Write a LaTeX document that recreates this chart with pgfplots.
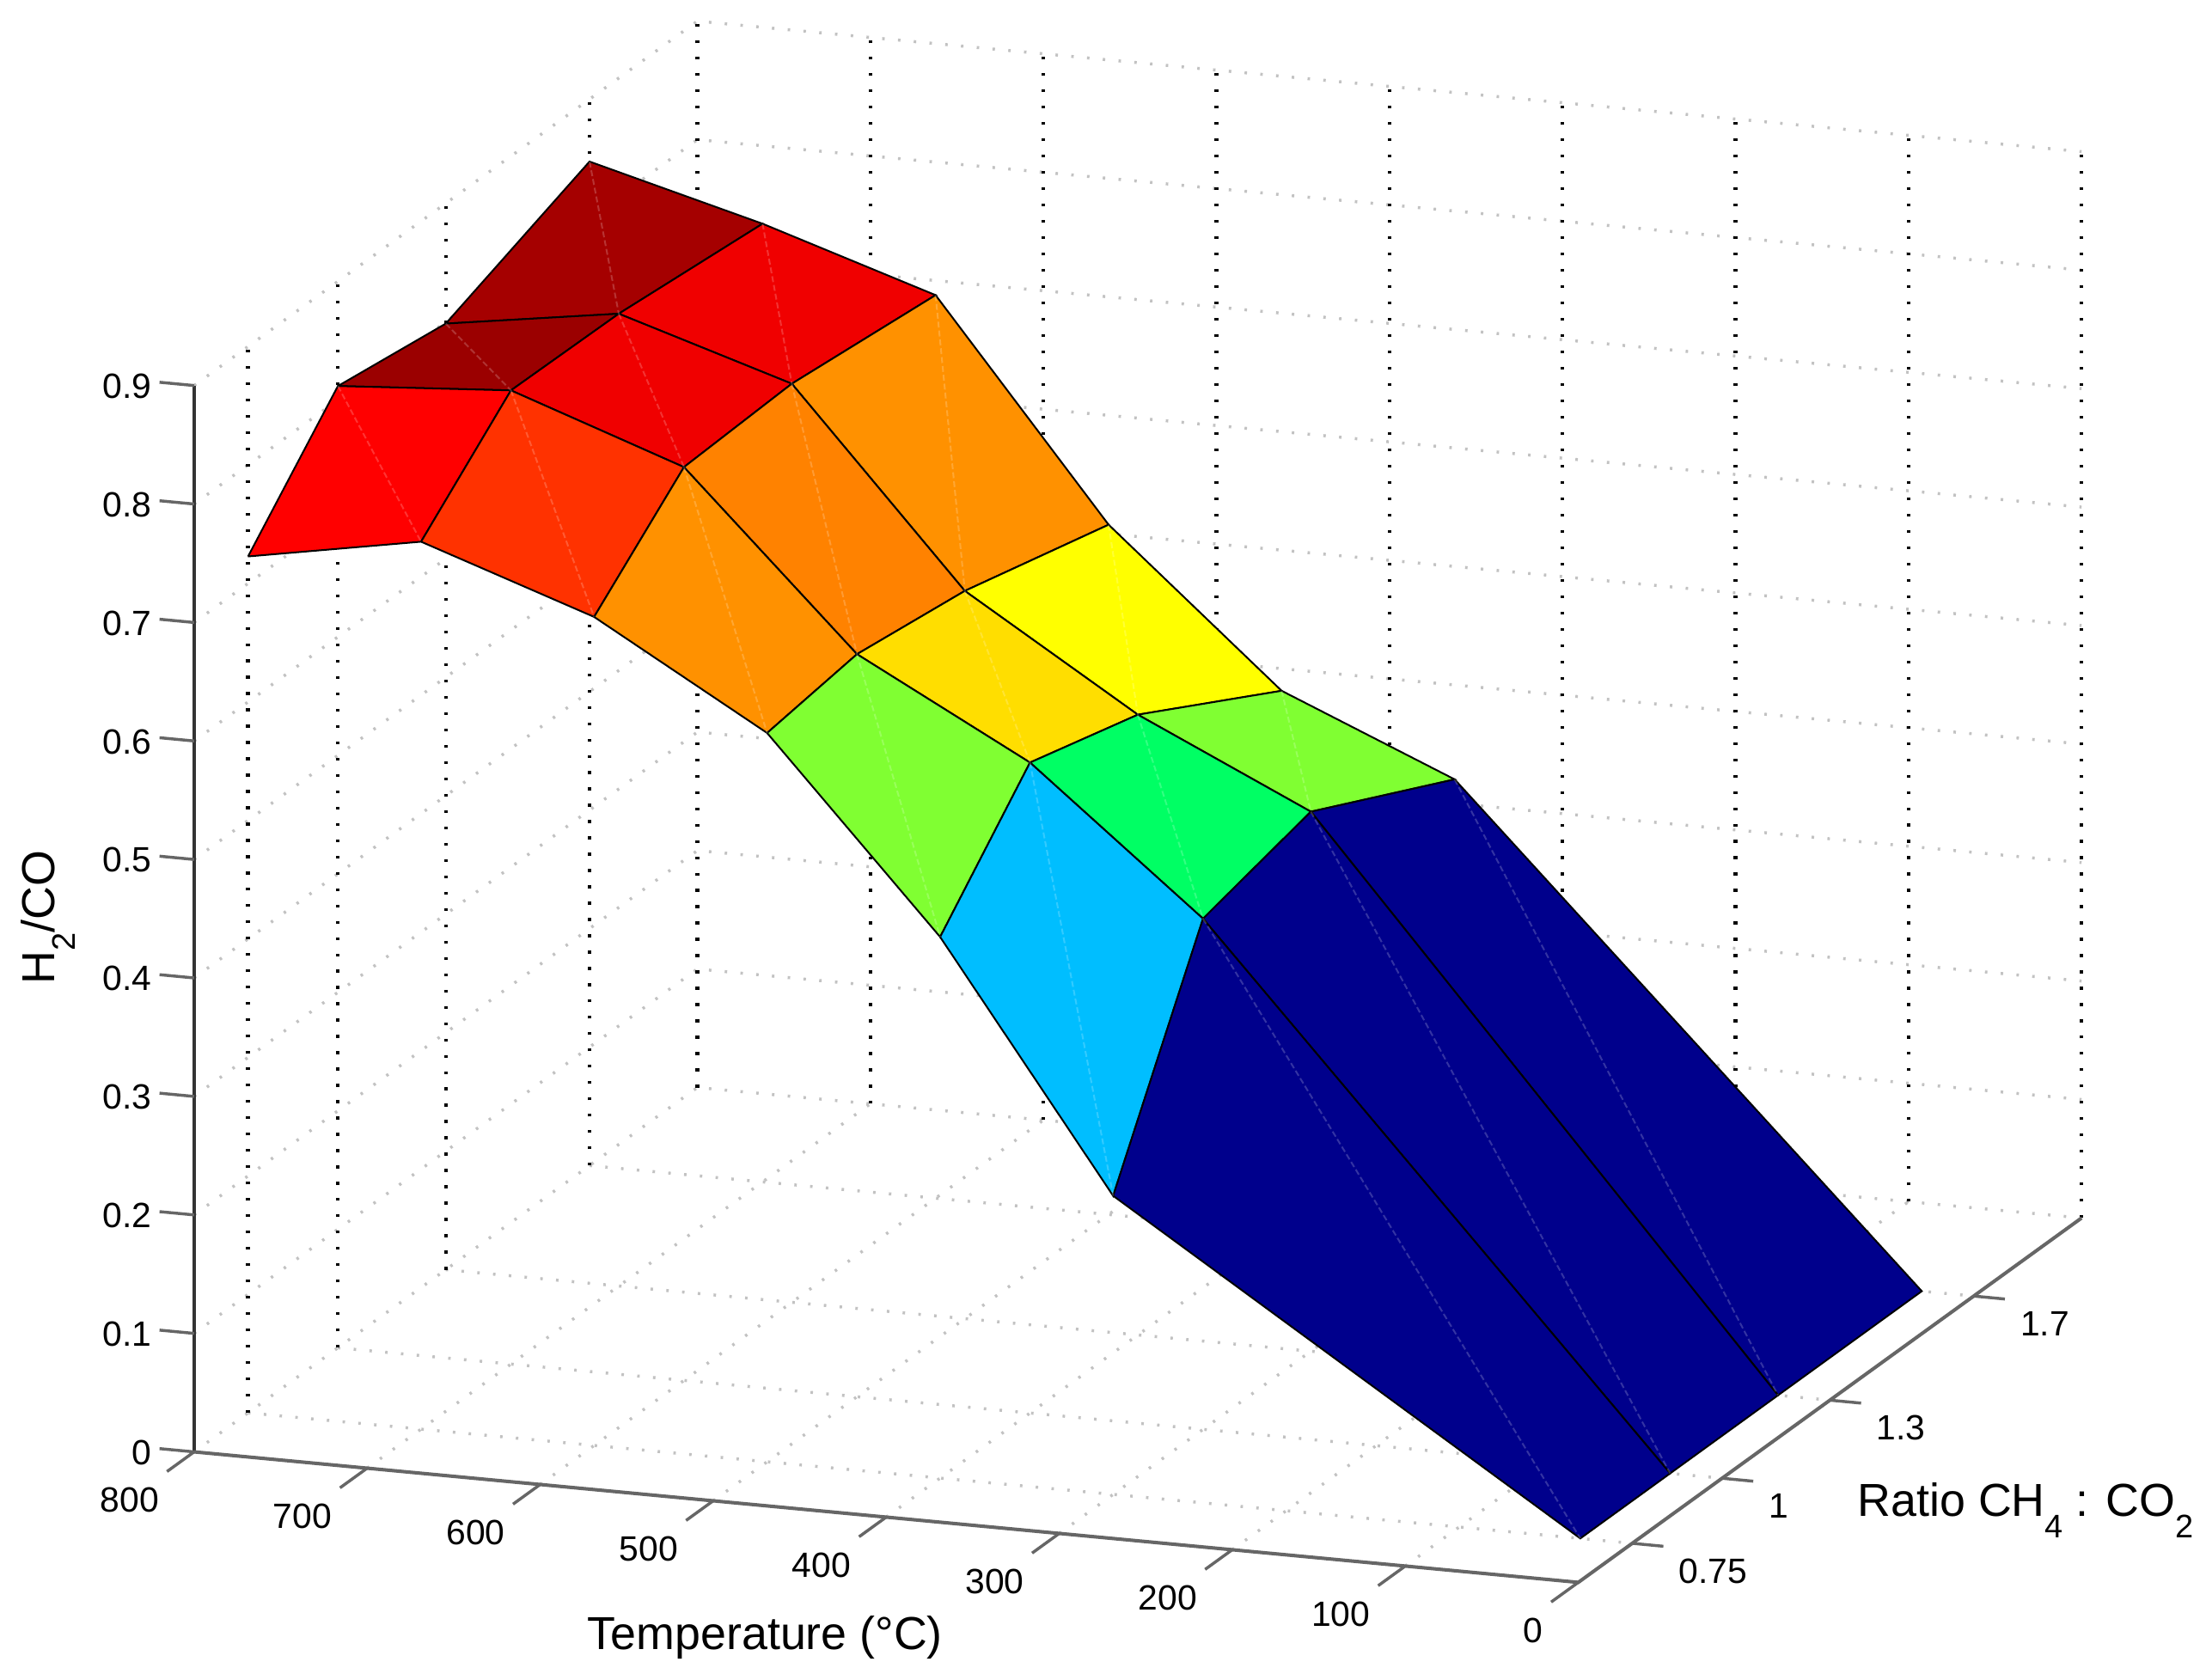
\documentclass[border=0pt]{standalone}
\usepackage{fontspec}
\setmainfont{Liberation Sans}
\usepackage{pgfplots}
\pgfplotsset{compat=1.18}
\definecolor{cA1}{RGB}{255,0,0}
\definecolor{cA2}{RGB}{255,50,0}
\definecolor{cA3}{RGB}{255,145,0}
\definecolor{cA4}{RGB}{128,255,50}
\definecolor{cA5}{RGB}{0,190,255}
\definecolor{navy}{RGB}{0,0,140}
\definecolor{cB1}{RGB}{155,0,0}
\definecolor{cB2}{RGB}{240,0,0}
\definecolor{cB3}{RGB}{255,130,0}
\definecolor{cB4}{RGB}{255,222,0}
\definecolor{cB5}{RGB}{0,255,100}
\definecolor{cC1}{RGB}{165,0,0}
\definecolor{cC4}{RGB}{255,255,0}
\newcommand{\sub}[1]{\smash{\raisebox{-4.2pt}{\fontsize{6.6}{8}\selectfont #1}}}
\begin{document}
\begin{tikzpicture}
\begin{axis}[
  x={(-0.0123cm,0.00116cm)}, y={(2.555cm,1.85cm)}, z={(0cm,8.422cm)},
  xmin=0, xmax=800, ymin=0.6, ymax=2, zmin=0, zmax=0.9,
  clip=false,
  axis line style={draw=none},
  xtick={0,100,...,800}, ytick={0.75,1,1.3,1.7},
  ztick={0,0.1,0.2,0.3,0.4,0.5,0.6,0.7,0.8,0.9},
  yticklabels={0.75,1,1.3,1.7},
  zticklabels={0,0.1,0.2,0.3,0.4,0.5,0.6,0.7,0.8,0.9},
  /pgf/number format/assume math mode=true,
  tick align=outside, tick pos=left,
  major tick length=0.28cm,
  tick style={draw=none},
  tick label style={font=\fontsize{7.1}{8}\selectfont},
  xticklabel style={anchor=east,xshift=0.1cm,yshift=-0.18cm},
  yticklabel style={anchor=west,xshift=-0.07cm,yshift=-0.17cm},
  zticklabel style={anchor=east,xshift=0.05cm,yshift=0.16cm},
  xlabel={Temperature (°C)},
  ylabel={Ratio CH\sub{4} : CO\sub{2}},
  zlabel={H\sub{2}/CO},
  label style={font=\fontsize{9.35}{11}\selectfont},
  xlabel style={at={(axis cs:470,0.6,-0.1211)},anchor=base,rotate=0,sloped=false},
  ylabel style={at={(axis cs:32.3,2,-0.2565)},anchor=base,rotate=0,sloped=false},
  zlabel style={at={(axis cs:880.5,0.6,0.4402)},anchor=base,rotate=0,sloped=false},
]
\coordinate (c) at (axis cs:800,0.6,0);
% light grid: floor and z levels on the walls
\pgfplotsinvokeforeach{0,0.1,0.2,0.3,0.4,0.5,0.6,0.7,0.8,0.9}{
  \draw[black!24,line width=0.6pt,dash pattern=on 0.5pt off 2.7pt] (axis cs:800,0.6,#1)--(axis cs:800,2,#1)--(axis cs:0,2,#1);
}
\pgfplotsinvokeforeach{0,100,200,300,400,500,600,700}{
  \draw[black!24,line width=0.6pt,dash pattern=on 0.5pt off 2.7pt] (axis cs:#1,0.6,0)--(axis cs:#1,2,0);
}
\pgfplotsinvokeforeach{0.75,1,1.3,1.7}{
  \draw[black!24,line width=0.6pt,dash pattern=on 0.5pt off 2.7pt] (axis cs:800,#1,0)--(axis cs:0,#1,0);
}
% dark vertical grid lines
\pgfplotsinvokeforeach{0,100,200,300,400,500,600,700,800}{
  \draw[black,line width=0.75pt,dash pattern=on 0.55pt off 2.75pt] (axis cs:#1,2,0)--(axis cs:#1,2,0.9);
}
\pgfplotsinvokeforeach{0.75,1,1.3,1.7}{
  \draw[black,line width=0.75pt,dash pattern=on 0.55pt off 2.75pt] (axis cs:800,#1,0)--(axis cs:800,#1,0.9);
}
% axis lines and tick marks
\draw[black!80,line width=0.6pt] (axis cs:800,0.6,0.9)--(axis cs:800,0.6,0);
\draw[black!60,line width=0.7pt] (axis cs:800,0.6,0)--(axis cs:0,0.6,0)--(axis cs:0,2,0);
\pgfplotsinvokeforeach{0,100,200,300,400,500,600,700,800}{
  \draw[black!60,line width=0.6pt] (axis cs:#1,0.6,0)--(axis cs:#1,0.5245,0);
}
\pgfplotsinvokeforeach{0.75,1,1.3,1.7}{
  \draw[black!60,line width=0.6pt] (axis cs:0,#1,0)--(axis cs:-18,#1,0);
}
\pgfplotsinvokeforeach{0,0.1,0.2,0.3,0.4,0.5,0.6,0.7,0.8,0.9}{
  \draw[black!60,line width=0.6pt] (axis cs:800,0.6,#1)--(axis cs:820,0.6,#1);
}
% surface: r 1.3-1.7
\addplot3[fill=cC1,draw=black,line width=0.35pt] coordinates {(800,1.3,0.7985)(700,1.3,0.8206)(700,1.7,0.8087)(800,1.7,0.8474)(800,1.3,0.7985)};
\addplot3[fill=cB2,draw=black,line width=0.35pt] coordinates {(700,1.3,0.8206)(600,1.3,0.7753)(600,1.7,0.7622)(700,1.7,0.8087)(700,1.3,0.8206)};
\addplot3[fill=cA3,draw=black,line width=0.35pt] coordinates {(600,1.3,0.7753)(500,1.3,0.6142)(500,1.7,0.5822)(600,1.7,0.7622)(600,1.3,0.7753)};
\addplot3[fill=cC4,draw=black,line width=0.35pt] coordinates {(500,1.3,0.6142)(400,1.3,0.5235)(400,1.7,0.4558)(500,1.7,0.5822)(500,1.3,0.6142)};
\addplot3[fill=cA4,draw=black,line width=0.35pt] coordinates {(400,1.3,0.5235)(300,1.3,0.4554)(300,1.7,0.3948)(400,1.7,0.4558)(400,1.3,0.5235)};
\addplot3[fill=navy,draw=black,line width=0.35pt] coordinates {(300,1.3,0.4554)(30,1.3,0)(30,1.7,0)(300,1.7,0.3948)(300,1.3,0.4554)};
% surface: r 1-1.3
\addplot3[fill=cB1,draw=black,line width=0.35pt] coordinates {(800,1,0.8117)(700,1,0.8218)(700,1.3,0.8206)(800,1.3,0.7985)(800,1,0.8117)};
\addplot3[fill=cB2,draw=black,line width=0.35pt] coordinates {(700,1,0.8218)(600,1,0.7708)(600,1.3,0.7753)(700,1.3,0.8206)(700,1,0.8218)};
\addplot3[fill=cB3,draw=black,line width=0.35pt] coordinates {(600,1,0.7708)(500,1,0.6267)(500,1.3,0.6142)(600,1.3,0.7753)(600,1,0.7708)};
\addplot3[fill=cB4,draw=black,line width=0.35pt] coordinates {(500,1,0.6267)(400,1,0.549)(400,1.3,0.5235)(500,1.3,0.6142)(500,1,0.6267)};
\addplot3[fill=cB5,draw=black,line width=0.35pt] coordinates {(400,1,0.549)(300,1,0.431)(300,1.3,0.4554)(400,1.3,0.5235)(400,1,0.549)};
\addplot3[fill=navy,draw=black,line width=0.35pt] coordinates {(300,1,0.431)(30,1,0)(30,1.3,0)(300,1.3,0.4554)(300,1,0.431)};
% surface: r 0.75-1
\addplot3[fill=cA1,draw=black,line width=0.35pt] coordinates {(800,0.75,0.7228)(700,0.75,0.749)(700,1,0.8218)(800,1,0.8117)(800,0.75,0.7228)};
\addplot3[fill=cA2,draw=black,line width=0.35pt] coordinates {(700,0.75,0.749)(600,0.75,0.6993)(600,1,0.7708)(700,1,0.8218)(700,0.75,0.749)};
\addplot3[fill=cA3,draw=black,line width=0.35pt] coordinates {(600,0.75,0.6993)(500,0.75,0.6151)(500,1,0.6267)(600,1,0.7708)(600,0.75,0.6993)};
\addplot3[fill=cA4,draw=black,line width=0.35pt] coordinates {(500,0.75,0.6151)(400,0.75,0.4567)(400,1,0.549)(500,1,0.6267)(500,0.75,0.6151)};
\addplot3[fill=cA5,draw=black,line width=0.35pt] coordinates {(400,0.75,0.4567)(300,0.75,0.252)(300,1,0.431)(400,1,0.549)(400,0.75,0.4567)};
\addplot3[fill=navy,draw=black,line width=0.35pt] coordinates {(300,0.75,0.252)(30,0.75,0)(30,1,0)(300,1,0.431)(300,0.75,0.252)};
% faint seams across each patch
\addplot3[white,opacity=0.2,line width=0.35pt,dash pattern=on 1.2pt off 0.6pt,unbounded coords=jump] coordinates {
(800,1.7,0.8474)(700,1.3,0.8206)(nan,nan,nan)
(700,1.7,0.8087)(600,1.3,0.7753)(nan,nan,nan)
(600,1.7,0.7622)(500,1.3,0.6142)(nan,nan,nan)
(500,1.7,0.5822)(400,1.3,0.5235)(nan,nan,nan)
(400,1.7,0.4558)(300,1.3,0.4554)(nan,nan,nan)
(300,1.7,0.3948)(30,1.3,0)(nan,nan,nan)
(800,1.3,0.7985)(700,1,0.8218)(nan,nan,nan)
(700,1.3,0.8206)(600,1,0.7708)(nan,nan,nan)
(600,1.3,0.7753)(500,1,0.6267)(nan,nan,nan)
(500,1.3,0.6142)(400,1,0.549)(nan,nan,nan)
(400,1.3,0.5235)(300,1,0.431)(nan,nan,nan)
(300,1.3,0.4554)(30,1,0)(nan,nan,nan)
(800,1,0.8117)(700,0.75,0.749)(nan,nan,nan)
(700,1,0.8218)(600,0.75,0.6993)(nan,nan,nan)
(600,1,0.7708)(500,0.75,0.6151)(nan,nan,nan)
(500,1,0.6267)(400,0.75,0.4567)(nan,nan,nan)
(400,1,0.549)(300,0.75,0.252)(nan,nan,nan)
(300,1,0.431)(30,0.75,0)
};
\end{axis}
\pgfresetboundingbox
\useasboundingbox (c) ++(-1.38,-1.62) rectangle ++(15.68,11.94);
\end{tikzpicture}
\end{document}
